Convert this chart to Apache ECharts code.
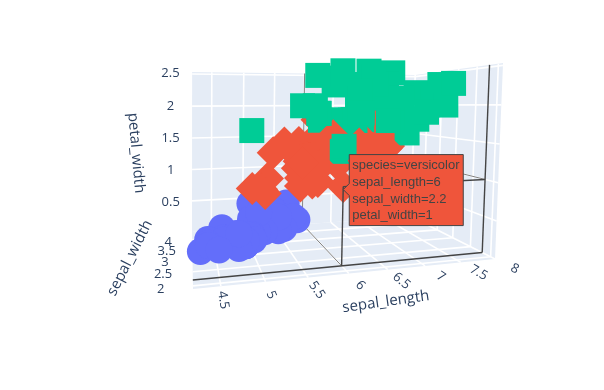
<!DOCTYPE html>
<html>
<head>
<meta charset="utf-8">
<style>
  html, body { margin: 0; padding: 0; background: #fff; }
  #main { width: 604px; height: 390px; }
</style>
<script src="https://cdn.jsdelivr.net/npm/echarts@6/dist/echarts.min.js"></script>
</head>
<body>
<div id="main"></div>
<script>
const setosaLength = [5.1,4.9,4.7,4.6,5.0,5.4,4.6,5.0,4.4,4.9,5.4,4.8,4.8,4.3,5.8,5.7,5.4,5.1,5.7,5.1,5.4,5.1,4.6,5.1,4.8,5.0,5.0,5.2,5.2,4.7,4.8,5.4,5.2,5.5,4.9,5.0,5.5,4.9,4.4,5.1,5.0,4.5,4.4,5.0,5.1,4.8,5.1,4.6,5.3,5.0];
const setosaWidth = [3.5,3.0,3.2,3.1,3.6,3.9,3.4,3.4,2.9,3.1,3.7,3.4,3.0,3.0,4.0,4.4,3.9,3.5,3.8,3.8,3.4,3.7,3.6,3.3,3.4,3.0,3.4,3.5,3.4,3.2,3.1,3.4,4.1,4.2,3.1,3.2,3.5,3.1,3.0,3.4,3.5,2.3,3.2,3.5,3.8,3.0,3.8,3.2,3.7,3.3];
const setosaPetal = [0.2,0.2,0.2,0.2,0.2,0.4,0.3,0.2,0.2,0.1,0.2,0.2,0.1,0.1,0.2,0.4,0.4,0.3,0.3,0.3,0.2,0.4,0.2,0.5,0.2,0.2,0.4,0.2,0.2,0.2,0.2,0.4,0.1,0.2,0.1,0.2,0.2,0.1,0.2,0.2,0.3,0.3,0.2,0.6,0.4,0.3,0.2,0.2,0.2,0.2];
const versicolorLength = [7.0,6.4,6.9,5.5,6.5,5.7,6.3,4.9,6.6,5.2,5.0,5.9,6.0,6.1,5.6,6.7,5.6,5.8,6.2,5.6,5.9,6.1,6.3,6.1,6.4,6.6,6.8,6.7,6.0,5.7,5.5,5.5,5.8,6.0,5.4,6.0,6.7,6.3,5.6,5.5,5.5,6.1,5.8,5.0,5.6,5.7,5.7,6.2,5.1,5.7];
const versicolorWidth = [3.2,3.2,3.1,2.3,2.8,2.8,3.3,2.4,2.9,2.7,2.0,3.0,2.2,2.9,2.9,3.1,3.0,2.7,2.2,2.5,3.2,2.8,2.5,2.8,2.9,3.0,2.8,3.0,2.9,2.6,2.4,2.4,2.7,2.7,3.0,3.4,3.1,2.3,3.0,2.5,2.6,3.0,2.6,2.3,2.7,3.0,2.9,2.9,2.5,2.8];
const versicolorPetal = [1.4,1.5,1.5,1.3,1.5,1.3,1.6,1.0,1.3,1.4,1.0,1.5,1.0,1.4,1.3,1.4,1.5,1.0,1.5,1.1,1.8,1.3,1.5,1.2,1.3,1.4,1.4,1.7,1.5,1.0,1.1,1.0,1.2,1.6,1.5,1.6,1.5,1.3,1.3,1.3,1.2,1.4,1.2,1.0,1.3,1.2,1.3,1.3,1.1,1.3];
const virginicaLength = [6.3,5.8,7.1,6.3,6.5,7.6,4.9,7.3,6.7,7.2,6.5,6.4,6.8,5.7,5.8,6.4,6.5,7.7,7.7,6.0,6.9,5.6,7.7,6.3,6.7,7.2,6.2,6.1,6.4,7.2,7.4,7.9,6.4,6.3,6.1,7.7,6.3,6.4,6.0,6.9,6.7,6.9,5.8,6.8,6.7,6.7,6.3,6.5,6.2,5.9];
const virginicaWidth = [3.3,2.7,3.0,2.9,3.0,3.0,2.5,2.9,2.5,3.6,3.2,2.7,3.0,2.5,2.8,3.2,3.0,3.8,2.6,2.2,3.2,2.8,2.8,2.7,3.3,3.2,2.8,3.0,2.8,3.0,2.8,3.8,2.8,2.8,2.6,3.0,3.4,3.1,3.0,3.1,3.1,3.1,2.7,3.2,3.3,3.0,2.5,3.0,3.4,3.0];
const virginicaPetal = [2.5,1.9,2.1,1.8,2.2,2.1,1.7,1.8,1.8,2.5,2.0,1.9,2.1,2.0,2.4,2.3,1.8,2.2,2.3,1.5,2.3,2.0,2.0,1.8,2.1,1.8,1.8,1.8,2.1,1.6,1.9,2.0,2.2,1.5,1.4,2.3,2.4,1.8,1.8,2.1,2.4,2.3,1.9,2.3,2.5,2.3,1.9,2.0,2.3,1.8];

const lengthTicks = [4.5, 5, 5.5, 6, 6.5, 7, 7.5, 8];
const widthTicks = [2, 2.5, 3, 3.5, 4];
const petalTicks = [0.5, 1, 1.5, 2, 2.5];
const hoverPoint = [6, 2.2, 1];
const hoverText = ['species=versicolor', 'sepal_length=6', 'sepal_width=2.2', 'petal_width=1'];

// axis ranges of the scene
const xRange = [4.2, 8];
const yRange = [1.9, 4.5];
const zRange = [0, 2.53];

// perspective camera fitted on the scene corners
function project(x, y, z) {
    const X = (x - xRange[0]) / (xRange[1] - xRange[0]);
    const Y = (y - yRange[0]) / (yRange[1] - yRange[0]);
    const Z = (z - zRange[0]) / (zRange[1] - zRange[0]);
    const w = 1 + 0.185 * X + 0.45 * Y - 0.03 * Z;
    return [
        (193 + 393.6 * X + 85.4 * Y - 5.6 * Z) / w,
        (289 + 17.9 * X + 47.4 * Y - 234.1 * Z) / w,
        w
    ];
}

const xLo = xRange[0], xHi = xRange[1], yLo = yRange[0], yHi = yRange[1], zLo = zRange[0], zHi = zRange[1];
const xSpan = xHi - xLo, ySpan = yHi - yLo, zSpan = zHi - zLo;

function seg(a, b) {
    const p = project(a[0], a[1], a[2]);
    const q = project(b[0], b[1], b[2]);
    return [p[0], p[1], q[0], q[1]];
}

function quad(a, b, c, d) {
    const r = [];
    [a, b, c, d].forEach(v => {
        const p = project(v[0], v[1], v[2]);
        r.push(p[0], p[1]);
    });
    return r;
}

function lineSeries(segments, color, width, z) {
    return {
        type: 'custom',
        coordinateSystem: 'cartesian2d',
        clip: false,
        silent: true,
        z: z,
        data: segments,
        encode: { x: [0, 2], y: [1, 3] },
        renderItem: (params, api) => {
            const s = api.coord([api.value(0), api.value(1)]);
            const e = api.coord([api.value(2), api.value(3)]);
            return {
                type: 'line',
                shape: { x1: s[0], y1: s[1], x2: e[0], y2: e[1] },
                style: { stroke: color, lineWidth: width, fill: null }
            };
        }
    };
}

function textSeries(items, font, z) {
    return {
        type: 'custom',
        coordinateSystem: 'cartesian2d',
        clip: false,
        silent: true,
        z: z,
        data: items.map(t => [t.x, t.y]),
        renderItem: (params, api) => {
            const p = api.coord([api.value(0), api.value(1)]);
            const t = items[params.dataIndex];
            return {
                type: 'text',
                x: p[0],
                y: p[1],
                rotation: t.rot * Math.PI / 180,
                style: {
                    text: t.text,
                    textAlign: 'center',
                    textVerticalAlign: 'middle',
                    fontFamily: '"Open Sans"',
                    fontSize: font,
                    fill: '#2a3f5f'
                }
            };
        }
    };
}

// walls
const walls = [
    quad([xLo, yLo, zLo], [xHi, yLo, zLo], [xHi, yHi, zLo], [xLo, yHi, zLo]),
    quad([xLo, yHi, zLo], [xHi, yHi, zLo], [xHi, yHi, zHi], [xLo, yHi, zHi]),
    quad([xHi, yLo, zLo], [xHi, yHi, zLo], [xHi, yHi, zHi], [xHi, yLo, zHi])
];

// white grid lines on each wall
const gridSegs = [];
lengthTicks.forEach(x => {
    gridSegs.push(seg([x, yLo, zLo], [x, yHi, zLo]));
    gridSegs.push(seg([x, yHi, zLo], [x, yHi, zHi]));
});
widthTicks.forEach(y => {
    gridSegs.push(seg([xLo, y, zLo], [xHi, y, zLo]));
    gridSegs.push(seg([xHi, y, zLo], [xHi, y, zHi]));
});
petalTicks.forEach(z => {
    gridSegs.push(seg([xLo, yHi, z], [xHi, yHi, z]));
    gridSegs.push(seg([xHi, yLo, z], [xHi, yHi, z]));
});

// spikes of the hovered point
const hx = hoverPoint[0], hy = hoverPoint[1], hz = hoverPoint[2];
const spikeGray = [
    seg([hx, hy, zLo], [hx, yHi, zLo]),
    seg([hx, yHi, zLo], [hx, yHi, zHi]),
    seg([xHi, hy, hz], [xHi, yHi, hz])
];
const spikeDark = [
    seg([xLo, hy, zLo], [xHi, hy, zLo]),
    seg([xHi, hy, zLo], [xHi, hy, zHi]),
    seg([hx, hy, zLo], [hx, hy, hz]),
    seg([hx, hy, hz], [xHi, hy, hz])
];

// markers, far ones first so that near ones cover them
const species = [
    { name: 'setosa', len: setosaLength, wid: setosaWidth, pet: setosaPetal, color: '#636EFA', symbol: 'circle', size: 27 },
    { name: 'versicolor', len: versicolorLength, wid: versicolorWidth, pet: versicolorPetal, color: '#EF553B', symbol: 'diamond', size: 33 },
    { name: 'virginica', len: virginicaLength, wid: virginicaWidth, pet: virginicaPetal, color: '#00CC96', symbol: 'rect', size: 25 }
];
const points = [];
species.forEach(s => {
    s.len.forEach((v, i) => {
        const p = project(v, s.wid[i], s.pet[i]);
        points.push({
            value: [p[0], p[1]],
            depth: p[2],
            symbol: s.symbol,
            symbolSize: s.size,
            itemStyle: { color: s.color, opacity: 1 }
        });
    });
});
points.sort((a, b) => b.depth - a.depth);

// tick labels, pushed outside of the box along the tick direction
const xLabels = lengthTicks.map(v => {
    const a = project(v, yLo, zLo);
    const dy = 0.16 * ySpan;
    const b = project(v, yLo - dy, zLo);
    return { text: String(v), x: b[0], y: b[1], rot: -Math.atan2(b[1] - a[1], b[0] - a[0]) * 180 / Math.PI };
});
const yLabels = widthTicks.map(v => {
    const b = project(xLo - 0.09 * xSpan, v, zLo);
    return { text: String(v), x: b[0], y: b[1], rot: 0 };
});
const zLabels = petalTicks.map(v => {
    const b = project(xLo - 0.085 * xSpan, yHi, v);
    return { text: String(v), x: b[0], y: b[1], rot: 0 };
});

const xTitle = project(xLo + 0.5 * xSpan, yLo - 0.36 * ySpan, zLo);
const titles = [
    { text: 'sepal_length', x: xTitle[0], y: xTitle[1], rot: 8 },
    { text: 'sepal_width', x: 130, y: 258, rot: 63 },
    { text: 'petal_width', x: 136, y: 153, rot: -85 }
];

const hoverXY = project(hx, hy, hz);

const myChart = echarts.init(document.getElementById('main'), null, { renderer: 'canvas' });
myChart.setOption({
    animation: false,
    grid: { left: 0, right: 0, top: 0, bottom: 0 },
    xAxis: { type: 'value', min: 0, max: 604, show: false },
    yAxis: { type: 'value', min: 0, max: 390, inverse: true, show: false },
    series: [
        {
            type: 'custom',
            coordinateSystem: 'cartesian2d',
            clip: false,
            silent: true,
            z: 1,
            data: walls,
            renderItem: (params, api) => {
                const pts = [];
                for (let i = 0; i < 4; i++) {
                    pts.push(api.coord([api.value(i * 2), api.value(i * 2 + 1)]));
                }
                return { type: 'polygon', shape: { points: pts }, style: { fill: '#E5ECF6' } };
            }
        },
        lineSeries(gridSegs, '#ffffff', 1.6, 2),
        lineSeries(spikeGray, '#7f7f7f', 1, 3),
        lineSeries(spikeDark.slice(0, 2), '#444444', 1.4, 3),
        {
            type: 'scatter',
            z: 4,
            silent: true,
            data: points
        },
        lineSeries(spikeDark.slice(2), '#444444', 1.4, 5),
        textSeries(xLabels.concat(yLabels, zLabels), 13, 6),
        textSeries(titles, 15, 6),
        {
            type: 'custom',
            coordinateSystem: 'cartesian2d',
            clip: false,
            silent: true,
            z: 7,
            data: [[hoverXY[0], hoverXY[1]]],
            renderItem: (params, api) => {
                const p = api.coord([api.value(0), api.value(1)]);
                const left = p[0] + 6, top = p[1] - 32;
                const w = 114, h = 71;
                const children = [{
                    type: 'polygon',
                    shape: {
                        points: [
                            [left, top], [left + w, top], [left + w, top + h], [left, top + h],
                            [left, p[1] + 9], [p[0], p[1] + 3], [left, p[1] - 3]
                        ]
                    },
                    style: { fill: '#EF553B', stroke: '#444444', lineWidth: 1 }
                }];
                hoverText.forEach((line, i) => {
                    children.push({
                        type: 'text',
                        x: left + 3,
                        y: top + 11 + i * 16.7,
                        style: {
                            text: line,
                            textAlign: 'left',
                            textVerticalAlign: 'middle',
                            fontFamily: 'Arial, "Liberation Sans"',
                            fontSize: 13,
                            fill: '#444444'
                        }
                    });
                });
                return { type: 'group', children: children };
            }
        }
    ]
});
</script>
</body>
</html>
